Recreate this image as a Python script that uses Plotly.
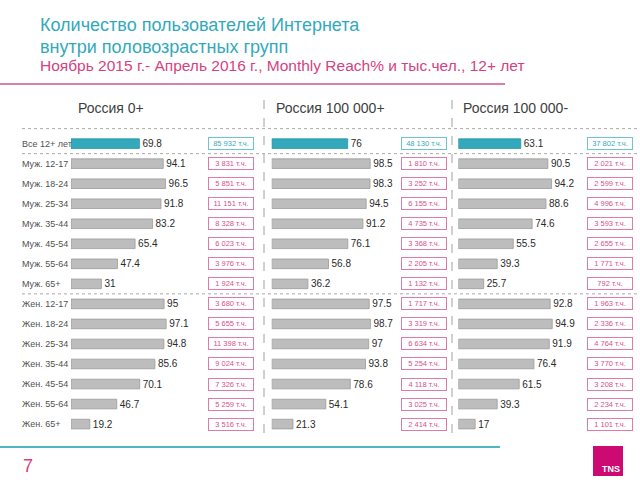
import plotly.graph_objects as go

# ---------------- data ----------------
categories = ["Все 12+ лет", "Муж. 12-17", "Муж. 18-24", "Муж. 25-34", "Муж. 35-44",
              "Муж. 45-54", "Муж. 55-64", "Муж. 65+", "Жен. 12-17", "Жен. 18-24",
              "Жен. 25-34", "Жен. 35-44", "Жен. 45-54", "Жен. 55-64", "Жен. 65+"]
panel_titles = ["Россия 0+", "Россия 100 000+", "Россия 100 000-"]

reach_all = [69.8, 94.1, 96.5, 91.8, 83.2, 65.4, 47.4, 31, 95, 97.1, 94.8, 85.6, 70.1, 46.7, 19.2]
reach_big = [76, 98.5, 98.3, 94.5, 91.2, 76.1, 56.8, 36.2, 97.5, 98.7, 97, 93.8, 78.6, 54.1, 21.3]
reach_small = [63.1, 90.5, 94.2, 88.6, 74.6, 55.5, 39.3, 25.7, 92.8, 94.9, 91.9, 76.4, 61.5, 39.3, 17]

users_all = [85932, 3831, 5851, 11151, 8328, 6023, 3976, 1924, 3680, 5655, 11398, 9024, 7326, 5259, 3516]
users_big = [48130, 1810, 3252, 6155, 4735, 3368, 2205, 1132, 1717, 3319, 6634, 5254, 4118, 3025, 2414]
users_small = [37802, 2021, 2599, 4996, 3593, 2655, 1771, 792, 1963, 2336, 4764, 3770, 3208, 2234, 1101]

reach = [reach_all, reach_big, reach_small]
users = [users_all, users_big, users_small]

# ---------------- styling ----------------
W, H = 640, 480
FONT = "Arial, Liberation Sans, sans-serif"
TEAL = "#33a9bb"
PINK = "#d4437f"
GRAY_BAR = "#bdbdbd"

def px(x):
    return x / W

def py(y):
    return 1 - y / H

# row centres: first at 138.3 px, spacing 20.4 px
row0, step = 138.3, 20.4
y_top = row0 - step / 2
y_bot = row0 + step * (len(categories) - 1) + step / 2

bar_starts = [71, 271.7, 458.3]
bar_scale = [0.98, 1.0, 0.99]          # px per percentage point
box_centres = [230.7, 424, 610]

fig = go.Figure()

axis_names = ["x", "x2", "x3"]
for i in range(3):
    colors = [TEAL] + [GRAY_BAR] * (len(categories) - 1)
    lines = ["#2396aa"] + ["#9a9a9a"] * (len(categories) - 1)
    fig.add_trace(go.Bar(
        x=reach[i], y=categories, orientation="h",
        xaxis=axis_names[i], yaxis="y",
        marker=dict(color=colors, line=dict(color=lines, width=0.8)),
        width=0.48,
        text=[f"{v:g}" for v in reach[i]],
        textposition="outside",
        textfont=dict(family=FONT, size=10, color="#2a2a2a"),
        constraintext="none",
        cliponaxis=False,
        showlegend=False,
        hoverinfo="skip",
    ))

layout = dict(
    width=W, height=H, autosize=False,
    margin=dict(l=0, r=0, t=0, b=0),
    paper_bgcolor="white", plot_bgcolor="rgba(0,0,0,0)",
    bargap=0.5,
    yaxis=dict(domain=[py(y_bot), py(y_top)], type="category",
               categoryorder="array", categoryarray=categories,
               autorange="reversed", visible=False, fixedrange=True),
)
for i, name in enumerate(["xaxis", "xaxis2", "xaxis3"]):
    x0 = bar_starts[i]
    x1 = x0 + 100 * bar_scale[i]
    d = dict(domain=[px(x0), px(x1)], range=[0, 100], visible=False, fixedrange=True)
    if i > 0:
        d["anchor"] = "y"
    layout[name] = d
fig.update_layout(**layout)

annotations = []
shapes = []

# titles
annotations.append(dict(text="Количество пользователей Интернета", x=px(38), y=py(25),
                        xref="paper", yref="paper", xanchor="left", yanchor="middle",
                        showarrow=False, font=dict(family=FONT, size=18, color=TEAL)))
annotations.append(dict(text="внутри половозрастных групп", x=px(38), y=py(46.5),
                        xref="paper", yref="paper", xanchor="left", yanchor="middle",
                        showarrow=False, font=dict(family=FONT, size=18, color=TEAL)))
annotations.append(dict(text="Ноябрь 2015 г.- Апрель 2016 г., Monthly Reach% и тыс.чел., 12+ лет",
                        x=px(38), y=py(66), xref="paper", yref="paper",
                        xanchor="left", yanchor="middle", showarrow=False,
                        font=dict(family=FONT, size=15.5, color=PINK)))

# title underline and footer line
shapes.append(dict(type="line", xref="paper", yref="paper", x0=0, x1=px(505),
                   y0=py(84), y1=py(84), line=dict(color="#dd7fae", width=2)))
shapes.append(dict(type="line", xref="paper", yref="paper", x0=0, x1=px(500),
                   y0=py(447), y1=py(447), line=dict(color="#4db8bf", width=2)))

# panel headers
header_x = [76, 274, 461]
for i, t in enumerate(panel_titles):
    annotations.append(dict(text=t, x=px(header_x[i]), y=py(108), xref="paper", yref="paper",
                            xanchor="left", yanchor="middle", showarrow=False,
                            font=dict(family=FONT, size=14, color="#404040")))

# vertical dashed separators
for xs in [264, 452]:
    shapes.append(dict(type="line", xref="paper", yref="paper", x0=px(xs), x1=px(xs),
                       y0=py(100), y1=py(440), line=dict(color="#a0a0a0", width=1, dash="dash")))

# horizontal dotted separators
for yv in [-0.75, 0.5, 7.5]:
    shapes.append(dict(type="line", xref="paper", yref="y", x0=px(22), x1=1,
                       y0=yv, y1=yv, line=dict(color="#aaaaaa", width=1, dash="dot")))

# row labels
for c in categories:
    annotations.append(dict(text=c, x=px(20), y=c, xref="paper", yref="y",
                            xanchor="left", yanchor="middle", showarrow=False,
                            font=dict(family=FONT, size=9, color="#505050")))

# user count boxes
for i in range(3):
    for j, c in enumerate(categories):
        col = TEAL if j == 0 else "#d8508c"
        bcol = "#6cc3d2" if j == 0 else "#e07aa8"
        txt = f"{users[i][j]:,}".replace(",", " ") + " т.ч."
        annotations.append(dict(text=txt, x=px(box_centres[i]), y=c, xref="paper", yref="y",
                                xanchor="center", yanchor="middle", showarrow=False,
                                width=44, height=11, borderpad=0, borderwidth=1,
                                bordercolor=bcol, bgcolor="white",
                                font=dict(family=FONT, size=7.5, color=col)))

# page number
annotations.append(dict(text="7", x=px(28), y=py(466), xref="paper", yref="paper",
                        xanchor="center", yanchor="middle", showarrow=False,
                        font=dict(family=FONT, size=18, color=PINK)))

# TNS logo
shapes.append(dict(type="rect", xref="paper", yref="paper", x0=px(593), x1=px(623),
                   y0=py(476), y1=py(446), fillcolor="#cc0a72", line=dict(width=0)))
annotations.append(dict(text="<b>TNS</b>", x=px(622), y=py(469), xref="paper", yref="paper",
                        xanchor="right", yanchor="middle", showarrow=False,
                        font=dict(family=FONT, size=9, color="white")))

fig.update_layout(annotations=annotations, shapes=shapes)
fig.write_html("out.html", config={"displayModeBar": False},
               post_script="document.body.style.margin='0';document.body.style.overflow='hidden';")
